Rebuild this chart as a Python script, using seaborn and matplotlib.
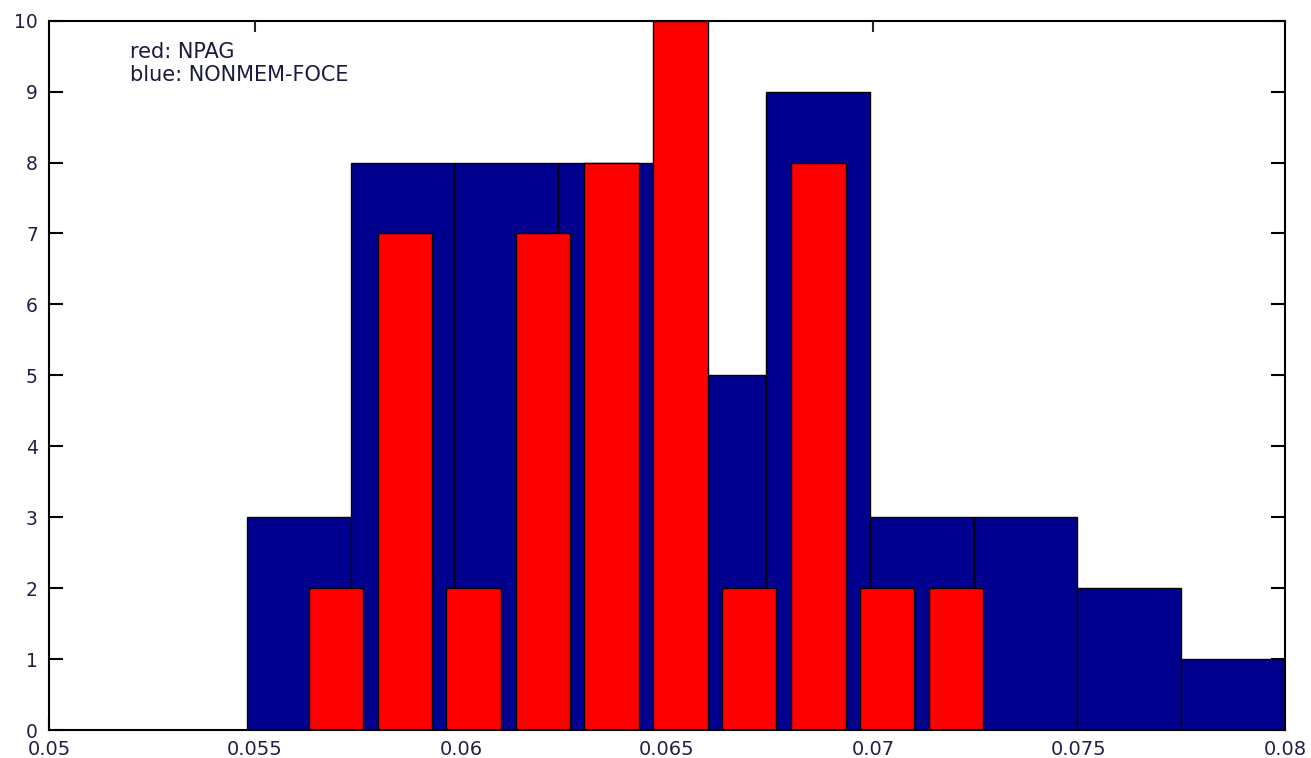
import matplotlib
matplotlib.use("Agg")
import matplotlib.pyplot as plt
import seaborn as sns
import numpy as np

# NONMEM-FOCE (blue) histogram
blue_edges = [0.0548, 0.05732, 0.05984, 0.06236, 0.06488, 0.0674,
              0.06992, 0.07244, 0.07496, 0.07748, 0.08]
blue_counts = [3, 8, 8, 8, 5, 9, 3, 3, 2, 1]

# NPAG (red) histogram
red_edges = [0.05613, 0.05780, 0.05947, 0.06115, 0.06282, 0.06449,
             0.06616, 0.06783, 0.06951, 0.07118, 0.07285]
red_counts = [2, 7, 2, 7, 8, 10, 2, 8, 2, 2]

x_ticks = [0.05, 0.055, 0.06, 0.065, 0.07, 0.075, 0.08]
x_ticklabels = ["0.05", "0.055", "0.06", "0.065", "0.07", "0.075", "0.08"]
y_ticks = list(range(0, 11))

sns.set_style("white")
plt.rcParams['font.family'] = ['DejaVu Sans']

fig = plt.figure(figsize=(13.11, 7.58), dpi=100)
ax = fig.add_axes([49 / 1311, 1 - 730 / 758, 1236 / 1311, 709.3 / 758])

blue_centers = [(a + b) / 2 for a, b in zip(blue_edges[:-1], blue_edges[1:])]
red_centers = [(a + b) / 2 for a, b in zip(red_edges[:-1], red_edges[1:])]

sns.histplot(x=blue_centers, weights=blue_counts, bins=blue_edges, ax=ax,
             color="#00008F", alpha=1, edgecolor="black", linewidth=1.0)
sns.histplot(x=red_centers, weights=red_counts, bins=red_edges, ax=ax,
             color="#FF0000", alpha=1, edgecolor="black", linewidth=1.0,
             shrink=0.79)

ax.set_xlim(0.05, 0.08)
ax.set_ylim(0, 10)
ax.set_xticks(x_ticks)
ax.set_xticklabels(x_ticklabels)
ax.set_yticks(y_ticks)
ax.set_xlabel("")
ax.set_ylabel("")
ax.set_axisbelow(True)

ax.tick_params(axis="y", direction="in", length=10, width=1.5,
               left=True, right=True, labelsize=13.5, pad=8, colors="black")
ax.tick_params(axis="x", direction="in", length=10, width=1.5,
               bottom=True, top=False, labelsize=14, pad=7, colors="black")
for lab in ax.get_xticklabels() + ax.get_yticklabels():
    lab.set_color("#20204a")

sec = ax.secondary_xaxis("top")
sec.set_xticks([0.055, 0.07])
sec.tick_params(direction="in", length=8, width=1.5, labeltop=False)
for s in sec.spines.values():
    s.set_visible(False)

for s in ax.spines.values():
    s.set_visible(True)
    s.set_color("black")
    s.set_linewidth(1.5)

ax.text(0.0655, 0.956, "red: NPAG", transform=ax.transAxes, fontsize=15,
        va="center", ha="left", color="#1a1a40")
ax.text(0.0655, 0.923, "blue: NONMEM-FOCE", transform=ax.transAxes, fontsize=15,
        va="center", ha="left", color="#1a1a40")

fig.savefig("out.png", dpi=100)
